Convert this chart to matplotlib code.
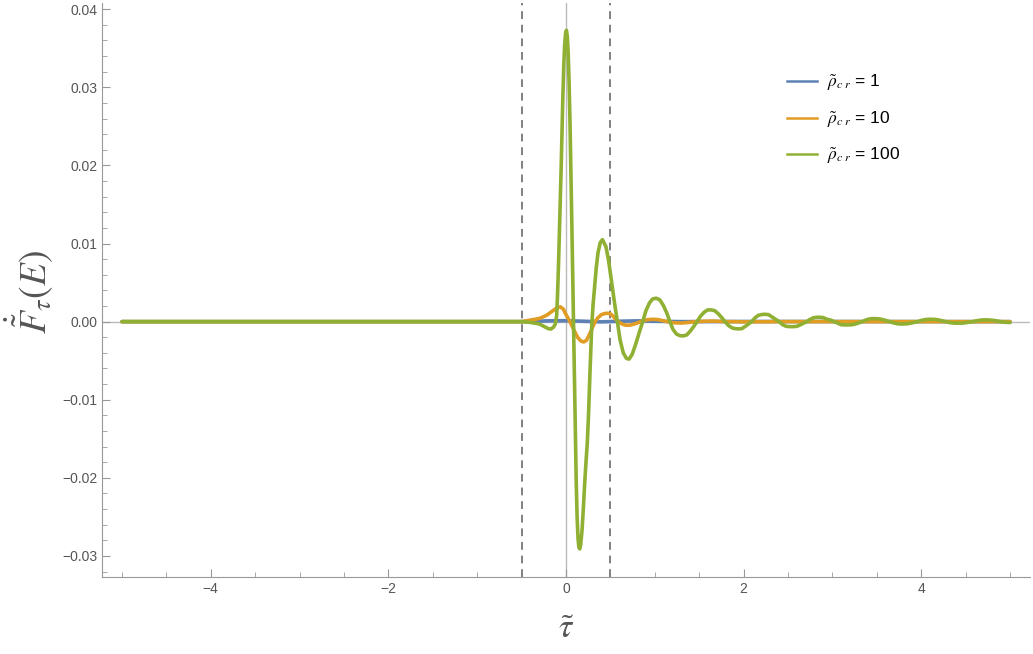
import numpy as np  # for arrays
import matplotlib
matplotlib.use('Agg')
import matplotlib.pyplot as plt  # for drawing
from matplotlib.ticker import MultipleLocator, FuncFormatter
from matplotlib.lines import Line2D

# data (tau, derivative of response)
tau_blue = [-5.0, -0.5, -0.4, -0.2, 0.0, 0.2, 0.4, 0.6, 0.8, 1.0, 1.3, 2.0, 5.0]
f_blue = [0.0, 0.0, 0.00003, 0.0001, 0.00012, 0.00005, -0.00003, 0.00005, 0.0001, 0.00005, 0.0, 0.00002, 0.0]

tau_orange = [-5.0, -0.5, -0.4, -0.3, -0.22, -0.16, -0.11, -0.065, -0.03, 0.0, 0.045, 0.09, 0.13,
              0.17, 0.2, 0.23, 0.27, 0.3, 0.327, 0.36, 0.4, 0.44, 0.47, 0.5, 0.53, 0.56, 0.59,
              0.63, 0.67, 0.72, 0.77, 0.82, 0.86, 0.92, 0.98, 1.04, 1.1, 1.16, 1.22, 1.3, 1.38,
              1.46, 1.55, 1.65, 1.8, 2.0, 2.5, 5.0]
f_orange = [0.0, 0.0, 0.0002, 0.0004, 0.0008, 0.0013, 0.0017, 0.0019, 0.0016, 0.0009, 0.0, -0.0011, -0.0020,
            -0.0025, -0.0026, -0.0024, -0.0015, -0.0007, 0.0, 0.0005, 0.0009, 0.00105, 0.00107, 0.0010, 0.0007, 0.0003, 0.0,
            -0.0003, -0.00045, -0.00045, -0.0003, -0.0001, 0.0001, 0.00025, 0.0003, 0.00025, 0.0001, -0.00005, -0.00015, -0.00018, -0.0001,
            0.0, 0.00005, 0.00007, 0.0, -0.00003, 0.0, 0.0]

tau_green = [-5.0, -0.5, -0.4, -0.3, -0.25, -0.2, -0.17, -0.14, -0.12, -0.105, -0.095, -0.085, -0.075,
             -0.065, -0.055, -0.045, -0.035, -0.025, -0.015, -0.005, 0.005, 0.015, 0.025, 0.035, 0.045,
             0.055, 0.065, 0.075, 0.085, 0.095, 0.105, 0.115, 0.125, 0.135, 0.145, 0.155, 0.165, 0.18,
             0.195, 0.21, 0.225, 0.24, 0.255, 0.27, 0.29, 0.305, 0.32, 0.34, 0.36, 0.385, 0.41,
             0.45, 0.48, 0.515, 0.545, 0.578, 0.61, 0.645, 0.68, 0.71, 0.745, 0.79, 0.83, 0.864,
             0.9, 0.94, 0.975, 1.015, 1.055, 1.095, 1.135, 1.17, 1.205, 1.245, 1.285, 1.32, 1.36,
             1.40, 1.44, 1.475, 1.515, 1.555, 1.595, 1.635, 1.675, 1.715, 1.755, 1.79, 1.83, 1.87,
             1.905, 1.94, 1.98, 2.02, 2.055, 2.09, 2.13, 2.165, 2.20, 2.24, 2.28, 2.32, 2.36, 2.40,
             2.44, 2.48, 2.52, 2.56, 2.60, 2.64, 2.675, 2.71, 2.75, 2.79, 2.825, 2.86, 2.90, 2.94,
             2.98, 3.02, 3.06, 3.10, 3.14, 3.18, 3.22, 3.26, 3.30, 3.335, 3.375, 3.415, 3.45, 3.49,
             3.53, 3.57, 3.61, 3.645, 3.685, 3.725, 3.76, 3.80, 3.84, 3.88, 3.92, 3.96, 4.0, 4.04,
             4.08, 4.12, 4.16, 4.2, 4.24, 4.27, 4.31, 4.35, 4.39, 4.42, 4.46, 4.5, 4.54, 4.58, 4.62,
             4.66, 4.70, 4.74, 4.78, 4.82, 4.86, 4.89, 4.93, 4.97, 5.0]
f_green = [0.0, 0.0, -0.0001, -0.0003, -0.0006, -0.0009, -0.00095, -0.0007, -0.0003, 0.0008, 0.0035, 0.0070, 0.0110,
           0.0150, 0.0195, 0.0245, 0.0290, 0.0328, 0.0355, 0.0369, 0.0373, 0.0365, 0.0343, 0.0305, 0.0255,
           0.0195, 0.0130, 0.0062, -0.0005, -0.0075, -0.0145, -0.0205, -0.0250, -0.0277, -0.0289, -0.0291, -0.0286, -0.0268,
           -0.0240, -0.0208, -0.0180, -0.0155, -0.0115, -0.0065, -0.0005, 0.0022, 0.0042, 0.0068, 0.0088, 0.0101, 0.0105,
           0.0096, 0.0078, 0.0049, 0.0025, 0.0, -0.0024, -0.0040, -0.0047, -0.0048, -0.0042, -0.0027, -0.0012, 0.0,
           0.0014, 0.0024, 0.0029, 0.0030, 0.0028, 0.0021, 0.0011, 0.0, -0.0010, -0.0016, -0.0018, -0.00183, -0.0017,
           -0.0012, -0.0006, 0.0, 0.0007, 0.0012, 0.0015, 0.0015, 0.0014, 0.0010, 0.0005, 0.0, -0.0005, -0.0008,
           -0.0009, -0.00093, -0.0009, -0.0006, -0.0003, 0.0, 0.0005, 0.0008, 0.0009, 0.00094, 0.0009, 0.0006, 0.0003, 0.0,
           -0.0004, -0.0006, -0.00064, -0.00064, -0.0006, -0.0004, -0.0002, 0.0, 0.0003, 0.0005, 0.00056, 0.00056, 0.0005, 0.0003,
           0.0002, 0.0, -0.0002, -0.0004, -0.00042, -0.00042, -0.0004, -0.0003, -0.00015, 0.0, 0.0002, 0.00034, 0.00038, 0.00038,
           0.00035, 0.00025, 0.00012, 0.0, -0.00015, -0.00026, -0.0003, -0.0003, -0.00028, -0.0002, -0.0001, 0.0, 0.00015, 0.00025,
           0.0003, 0.0003, 0.00028, 0.0002, 0.0001, 0.0, -0.0001, -0.00017, -0.0002, -0.0002, -0.00019, -0.00014, -0.00007, 0.0, 0.0001,
           0.00018, 0.00022, 0.00022, 0.0002, 0.00015, 0.00007, 0.0, -0.00007, -0.0001, -0.00012]

labels = [r'$\tilde{\rho}_{c\;r}$ = 1', r'$\tilde{\rho}_{c\;r}$ = 10', r'$\tilde{\rho}_{c\;r}$ = 100']
colors = ['#5E81B5', '#E19C24', '#8FB032']  # Mathematica default palette
dashed_at = [-0.5, 0.5]

plt.rcParams['font.family'] = ['Liberation Sans', 'DejaVu Sans']
plt.rcParams['mathtext.fontset'] = 'stix'

fig = plt.figure(figsize=(10.33, 6.54), dpi=100)
ax = fig.add_axes([102 / 1033, 1 - 577 / 654, 928 / 1033, 574 / 654])

# axes through the origin
ax.axhline(0, color='#bbbbbb', lw=1, zorder=1)
ax.axvline(0, color='#bbbbbb', lw=1, zorder=1)

# the three curves
curves = [(tau_blue, f_blue), (tau_orange, f_orange), (tau_green, f_green)]
for (t, f), c in zip(curves, colors):
    ax.plot(t, f, color=c, lw=2.6, solid_joinstyle='round', solid_capstyle='round', zorder=3)

# dashed vertical markers
for xd in dashed_at:
    ax.axvline(xd, color='#808080', lw=1.4, ls=(0, (4, 3)), zorder=2)

ax.set_xlim(-5.225, 5.225)
ax.set_ylim(-0.0327, 0.0408)

ax.xaxis.set_major_locator(MultipleLocator(2))
ax.xaxis.set_minor_locator(MultipleLocator(0.5))
ax.yaxis.set_major_locator(MultipleLocator(0.01))
ax.yaxis.set_minor_locator(MultipleLocator(0.002))
ax.yaxis.set_major_formatter(FuncFormatter(
    lambda v, p: '0.00' if abs(v) < 1e-9 else f'{v:.2f}'.replace('-', '\u2212')))

for s in ['top', 'right']:
    ax.spines[s].set_visible(False)
for s in ['left', 'bottom']:
    ax.spines[s].set_color('#999999')
ax.tick_params(which='both', direction='in', colors='#999999', labelcolor='#555555', labelsize=10)
ax.tick_params(which='major', length=6)
ax.tick_params(which='minor', length=3.5)

# axis labels
fig.text(566 / 1033, 1 - 630 / 654, r'$\tilde{\tau}$', fontsize=24, color='#555555', ha='center', va='center')
fig.text(29 / 1033, 1 - 292 / 654, r'$\dot{\tilde{F}}_{\tau}(E)$', fontsize=27, color='#555555',
         rotation=90, ha='center', va='center')

# legend
handles = [Line2D([], [], color=c, lw=1.8) for c in colors]
ax.legend(handles, labels, loc='upper left', bbox_to_anchor=(0.729, 0.8935), frameon=False,
          fontsize=12.5, handlelength=1.7, handletextpad=0.6, labelspacing=0.95, borderpad=0)

fig.savefig('out.png', dpi=100)
